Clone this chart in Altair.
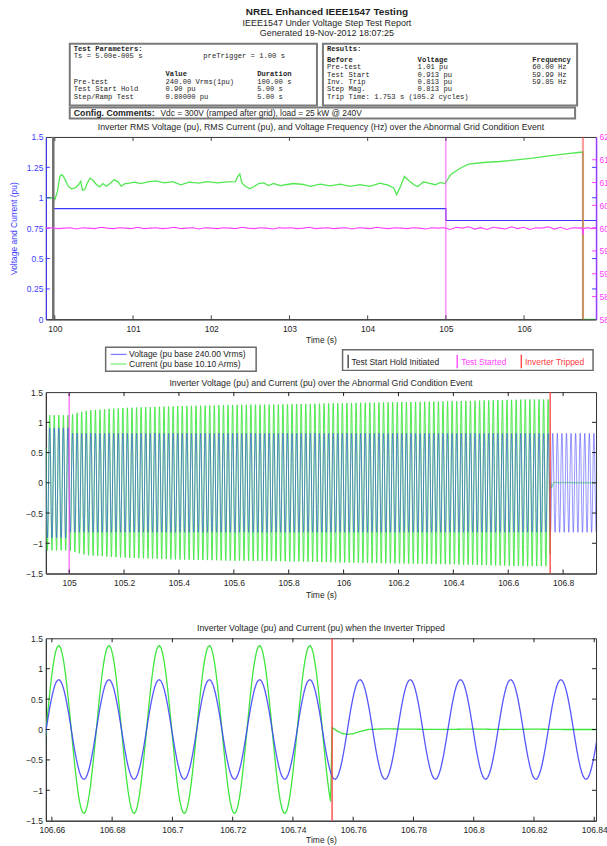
import altair as alt
import numpy as np
import pandas as pd

alt.data_transformers.disable_max_rows()

# ---------------- data: report header ----------------
report_title = "NREL Enhanced IEEE1547 Testing"
report_subtitle = "IEEE1547 Under Voltage Step Test Report"
report_generated = "Generated 19-Nov-2012 18:07:25"
param_sample = "Ts = 5.00e-005 s"
param_pretrigger = "preTrigger = 1.00 s"
param_rows = ["Pre-test", "Test Start Hold", "Step/Ramp Test"]
param_values = ["240.00 Vrms(1pu)", "0.90 pu", "0.80000 pu"]
param_durations = ["100.00 s", "5.00 s", "5.00 s"]
result_rows = ["Pre-test", "Test Start", "Inv. Trip", "Step Mag."]
result_voltage = ["1.01 pu", "0.913 pu", "0.813 pu", "0.813 pu"]
result_frequency = ["60.00 Hz", "59.99 Hz", "59.85 Hz", ""]
trip_time = "Trip Time: 1.753 s (105.2 cycles)"
config_comment = "Vdc = 300V (ramped after grid), load = 25 kW @ 240V"

# ---------------- data: events ----------------
event_names = ["Test Start Hold Initiated", "Test Started", "Inverter Tripped"]
event_times = [99.98, 105.0, 106.753]
TRIP_T = 106.753

# ---------------- data: RMS panel ----------------
rms_voltage = [(99.885, 1.0), (99.98, 1.0), (99.98, 0.91), (105.0, 0.91),
               (105.0, 0.813), (106.92, 0.813)]
rms_current = [
    (99.885, 1.0), (99.975, 1.0), (100.0, 0.985), (100.034, 1.054), (100.064, 1.177),
    (100.094, 1.19), (100.128, 1.155), (100.17, 1.095), (100.212, 1.073), (100.263, 1.081),
    (100.305, 1.109), (100.331, 1.136), (100.352, 1.062), (100.382, 1.068), (100.416, 1.122),
    (100.45, 1.16), (100.488, 1.144), (100.53, 1.109), (100.573, 1.09), (100.615, 1.117),
    (100.657, 1.095), (100.7, 1.114), (100.755, 1.147), (100.806, 1.133), (100.848, 1.095),
    (100.89, 1.114), (100.954, 1.12), (101.018, 1.128), (101.102, 1.117), (101.187, 1.131),
    (101.293, 1.139), (101.399, 1.122), (101.505, 1.133), (101.611, 1.106), (101.717, 1.128),
    (101.844, 1.12), (101.95, 1.133), (102.077, 1.122), (102.204, 1.131), (102.31, 1.133),
    (102.34, 1.177), (102.365, 1.196), (102.391, 1.122), (102.437, 1.095), (102.492, 1.073),
    (102.543, 1.09), (102.607, 1.117), (102.67, 1.122), (102.734, 1.1), (102.797, 1.117),
    (102.882, 1.1), (102.967, 1.109), (103.052, 1.117), (103.179, 1.109), (103.266, 1.093),
    (103.393, 1.112), (103.52, 1.098), (103.647, 1.112), (103.774, 1.093), (103.902, 1.107),
    (104.029, 1.093), (104.156, 1.12), (104.262, 1.104), (104.335, 1.079), (104.37, 1.025),
    (104.41, 1.079), (104.47, 1.175), (104.525, 1.142), (104.59, 1.107), (104.64, 1.093),
    (104.715, 1.131), (104.78, 1.12), (104.865, 1.107), (104.93, 1.126), (104.99, 1.115),
    (105.02, 1.148), (105.06, 1.189), (105.12, 1.216), (105.2, 1.249), (105.29, 1.276),
    (105.48, 1.29), (105.69, 1.298), (105.9, 1.311), (106.11, 1.325), (106.32, 1.344),
    (106.53, 1.36), (106.72, 1.374), (106.752, 1.376), (106.753, 0.0), (106.92, 0.0),
]
freq_hz = [
    60.00, 60.01, 59.99, 60.00, 60.01, 59.98, 60.01, 60.00, 59.99, 60.02,
    60.00, 59.99, 60.01, 60.00, 59.99, 60.02, 59.99, 60.00, 60.01, 59.99,
    60.00, 60.02, 59.99, 60.00, 60.01, 59.98, 60.01, 60.00, 59.99, 60.01,
    60.00, 59.99, 60.02, 60.00, 59.99, 60.01, 60.00, 59.98, 60.01, 60.00,
    60.01, 59.99, 60.00, 60.02, 59.99, 60.00, 60.01, 59.99, 60.00, 60.01,
    59.98, 60.01, 60.00, 59.99, 60.02, 60.00, 59.99, 60.01, 60.00, 59.99,
    60.01, 60.00, 59.98, 60.01, 60.00, 60.01,
    59.97, 60.02, 60.00, 60.03, 59.98, 60.01, 59.97, 60.02, 60.00, 59.98,
    60.03, 59.99, 60.02, 59.97, 60.01, 60.00, 60.03, 59.98, 60.02, 59.97,
    60.01, 60.00,
]
freq_tail = [(106.73, 60.01), (106.745, 59.98), (106.753, 59.85), (106.76, 59.99),
             (106.78, 60.0), (106.82, 60.01), (106.86, 59.99), (106.92, 60.0)]

# ---------------- data: waveforms ----------------
LINE_FREQ_HZ = 60.0
V_ZERO_CROSS = 106.6581          # rising zero crossing of the voltage (bottom panel)
VOLT_PEAK_BEFORE = 0.91
VOLT_PEAK_AFTER = 0.82
cur_env_t = [104.915, 105.0, 105.03, 105.07, 105.2, 105.4, 105.6, 105.8, 106.0, 106.4, 106.66, 106.753]
cur_env_v = [1.12, 1.12, 1.16, 1.20, 1.24, 1.27, 1.29, 1.30, 1.32, 1.35, 1.38, 1.38]
post_trip_t = [106.7531, 106.7545, 106.756, 106.758, 106.760, 106.7625, 106.765, 106.770,
               106.78, 106.79, 106.80, 106.81, 106.82, 106.83, 106.8406, 106.93]
post_trip_v = [0.03, -0.02, -0.06, -0.08, -0.07, -0.03, 0.0, 0.01,
               0.005, 0.0, 0.008, 0.0, 0.006, 0.0, 0.0, 0.0]

# ---------------- axes ----------------
top_x_ticks = [100, 101, 102, 103, 104, 105, 106]
top_y_ticks = [0, 0.25, 0.5, 0.75, 1, 1.25, 1.5]
top_f_ticks = [58, 58.5, 59, 59.5, 60, 60.5, 61, 61.5, 62]
mid_x_ticks = [105, 105.2, 105.4, 105.6, 105.8, 106, 106.2, 106.4, 106.6, 106.8]
wave_y_ticks = [-1.5, -1, -0.5, 0, 0.5, 1, 1.5]
bot_x_ticks = [106.66, 106.68, 106.7, 106.72, 106.74, 106.76, 106.78, 106.8, 106.82, 106.84]

title_top = ("Inverter RMS Voltage (pu), RMS Current (pu), and Voltage Frequency (Hz) "
             "over the Abnormal Grid Condition Event")
title_mid = "Inverter Voltage (pu) and Current (pu) over the Abnormal Grid Condition Event"
title_bot = "Inverter Voltage (pu) and Current (pu) when the Inverter Tripped"
legend_series = ["Voltage (pu base 240.00 Vrms)", "Current (pu base 10.10 Arms)"]

# ---------------- style ----------------
FONT = "Liberation Sans"
MONO = "Liberation Mono"
BLUE = "#3a3aff"
GREEN = "#3fe63f"
PINK = "#ff40ff"
RED = "#ff3b3b"
PURPLE = "#9a3cff"
GRAYLINE = "#707070"
INK = "#1e1e1e"
FMT = ".6~g"
W = 552
TICK = 4
OX = 45
DUMMY = pd.DataFrame({"d": [0]})


def frame_layers(top, bottom):
    base = alt.Chart(DUMMY).mark_rule(color="white", strokeWidth=0.1, strokeOpacity=0)
    return [base.encode(x=alt.value(-44.9), x2=alt.value(599.9), y=alt.value(top)),
            base.encode(x=alt.value(-44.9), x2=alt.value(599.9), y=alt.value(bottom))]


def title_layer(text, y):
    return alt.Chart(DUMMY).mark_text(font=FONT, fontSize=8.8, color=INK, align="center",
                                      baseline="middle").encode(
        x=alt.value(W / 2), y=alt.value(y), text=alt.value(text))


def yticks(vals, scale, axis, side, color):
    x0 = 0 if side == "left" else W - TICK
    return alt.Chart(pd.DataFrame({"v": vals})).mark_rule(color=color, strokeWidth=1).encode(
        y=alt.Y("v:Q", scale=scale, axis=axis), x=alt.value(x0), x2=alt.value(x0 + TICK))


def xticks(vals, scale, axis, h, color=INK):
    df = pd.DataFrame({"v": vals})
    b = alt.Chart(df).mark_rule(color=color, strokeWidth=1)
    return [b.encode(x=alt.X("v:Q", scale=scale, axis=axis), y=alt.value(h - TICK), y2=alt.value(h)),
            b.encode(x=alt.X("v:Q", scale=scale, axis=axis), y=alt.value(0), y2=alt.value(TICK))]


def event_rule(idx, color, width, opacity, scale, axis):
    return alt.Chart(ev_df.iloc[[idx]]).mark_rule(
        color=color, strokeWidth=width, opacity=opacity).encode(
        x=alt.X("t:Q", scale=scale, axis=axis))


def text_layer(df, font, size, weight="normal", align="left"):
    return alt.Chart(df).mark_text(font=font, fontSize=size, fontWeight=weight, align=align,
                                   baseline="middle").encode(
        x=alt.X("x:Q", scale=None), y=alt.Y("y:Q", scale=None), text="text:N",
        color=alt.Color("c:N", scale=None))


ev_df = pd.DataFrame({"t": event_times, "name": event_names})

# ================= header chart (origin at page y = 0) =================
rows = []


def add(text, ax, ay, style, c=INK):
    rows.append(dict(text=text, x=ax - OX, y=ay, style=style, c=c))


add(report_title, 327, 9.5, "title")
add(report_subtitle, 327, 20.5, "sub")
add(report_generated, 327, 31, "sub")
add("Test Parameters:", 73, 46.5, "mono_b")
add(param_sample, 73, 54, "mono")
add(param_pretrigger, 203, 54, "mono")
add("Value", 165, 72, "mono_b")
add("Duration", 257, 72, "mono_b")
for i, (a, b, c) in enumerate(zip(param_rows, param_values, param_durations)):
    yy = 79.8 + i * 7.4
    add(a, 73, yy, "mono")
    add(b, 165, yy, "mono")
    add(c, 257, yy, "mono")
add("Results:", 327, 46.5, "mono_b")
add("Before", 327, 57.5, "mono_b")
add("Voltage", 418, 57.5, "mono_b")
add("Frequency", 533, 57.5, "mono_b")
for i, (a, b, c) in enumerate(zip(result_rows, result_voltage, result_frequency)):
    yy = 65.0 + i * 7.4
    add(a, 327, yy, "mono")
    add(b, 418, yy, "mono")
    if c:
        add(c, 533, yy, "mono")
add(trip_time, 327, 94.6, "mono")
add("Config. Comments:", 73, 110.5, "sans_b")
add(config_comment, 160, 110.5, "sans")
hdr = pd.DataFrame(rows)

boxes = pd.DataFrame({
    "x": [69 - OX, 323 - OX, 69 - OX],
    "x2": [317 - OX, 578 - OX, 576 - OX],
    "y": [41.5, 41.5, 105.5],
    "y2": [103.5, 103.5, 116.5],
})
box_layer = alt.Chart(boxes).mark_rect(filled=False, stroke="#7a7a7a", strokeWidth=2).encode(
    x=alt.X("x:Q", scale=None), x2="x2:Q", y=alt.Y("y:Q", scale=None), y2="y2:Q")

header = alt.layer(
    *frame_layers(0.1, 119.5),
    box_layer,
    text_layer(hdr[hdr["style"] == "title"], FONT, 10, "bold", "center"),
    text_layer(hdr[hdr["style"] == "sub"], FONT, 9, "normal", "center"),
    text_layer(hdr[hdr["style"] == "mono_b"], MONO, 7.2, "bold"),
    text_layer(hdr[hdr["style"] == "mono"], MONO, 7.2, "normal"),
    text_layer(hdr[hdr["style"] == "sans_b"], FONT, 8.8, "bold"),
    text_layer(hdr[hdr["style"] == "sans"], FONT, 8.4, "normal"),
).properties(width=W, height=1, view=alt.ViewBackground(stroke="transparent"))

# ================= panel 1: RMS (origin at page y = 137) =================
H1 = 183
xs1 = alt.Scale(domain=[99.885, 106.92], nice=False, zero=False)
ys1 = alt.Scale(domain=[0, 1.5], nice=False, zero=False)
yf1 = alt.Scale(domain=[58, 62], nice=False, zero=False)

v_df = pd.DataFrame(rms_voltage, columns=["t", "v"])
c_df = pd.DataFrame(rms_current, columns=["t", "v"])
f_t = list(np.linspace(99.885, 106.70, len(freq_hz))) + [p[0] for p in freq_tail]
f_df = pd.DataFrame({"t": f_t, "f": freq_hz + [p[1] for p in freq_tail]})

x_axis1 = alt.Axis(values=top_x_ticks, format=FMT, title="Time (s)", labelPadding=5,
                   titlePadding=3, labelFlush=False, labelOverlap=False)
y_axis1 = alt.Axis(values=top_y_ticks, format=FMT, title="Voltage and Current (pu)",
                   labelColor=BLUE, titleColor=BLUE, domainColor=BLUE, labelPadding=3,
                   titlePadding=8, labelOverlap=False)
f_axis1 = alt.Axis(orient="right", values=top_f_ticks, format=FMT, title="",
                   labelColor=PINK, domainColor=PURPLE, domainWidth=1.5, labelPadding=3,
                   labelOverlap=False)

blue1 = alt.Chart(v_df).mark_line(color=BLUE, strokeWidth=1.2, clip=True).encode(
    x=alt.X("t:Q", scale=xs1, axis=x_axis1), y=alt.Y("v:Q", scale=ys1, axis=y_axis1))
green1 = alt.Chart(c_df).mark_line(color=GREEN, strokeWidth=1.3, opacity=0.9, clip=True).encode(
    x=alt.X("t:Q", scale=xs1, axis=x_axis1), y=alt.Y("v:Q", scale=ys1, axis=y_axis1))

left1 = alt.layer(
    *frame_layers(-14.5, 207.5),
    blue1, green1,
    event_rule(0, GRAYLINE, 2.5, 1.0, xs1, x_axis1),
    event_rule(1, PINK, 1.1, 0.8, xs1, x_axis1),
    event_rule(2, RED, 2.2, 0.5, xs1, x_axis1),
    *xticks(top_x_ticks, xs1, x_axis1, H1, "#444"),
    yticks(top_y_ticks[1:-1], ys1, y_axis1, "left", BLUE),
    yticks(top_y_ticks[1:-1], ys1, y_axis1, "right", BLUE),
    title_layer(title_top, -9.5),
)
pink1 = alt.Chart(f_df).mark_line(color=PINK, strokeWidth=1.1, clip=True).encode(
    x=alt.X("t:Q", scale=xs1, axis=x_axis1),
    y=alt.Y("f:Q", scale=yf1, axis=f_axis1))
right1 = alt.layer(pink1, yticks(top_f_ticks[1:-1], yf1, f_axis1, "right", PINK))
panel1 = alt.layer(left1, right1).resolve_scale(y="independent").properties(width=W, height=H1)

# ================= legend chart (origin at page y = 345.5) =================
LY = 345.5
leg_boxes = pd.DataFrame({"x": [105 - OX, 342.7 - OX], "x2": [256 - OX, 594 - OX],
                          "y": [345.5 - LY, 348 - LY], "y2": [369.5 - LY, 368.7 - LY]})
leg_box_layer = alt.Chart(leg_boxes).mark_rect(filled=False, stroke="#6a6a6a", strokeWidth=1.5).encode(
    x=alt.X("x:Q", scale=None), x2="x2:Q", y=alt.Y("y:Q", scale=None), y2="y2:Q")
leg_lines = pd.DataFrame({
    "x": [110 - OX, 110 - OX, 348.3 - OX, 457.7 - OX, 522 - OX],
    "x2": [126 - OX, 126 - OX, 348.3 - OX, 457.7 - OX, 522 - OX],
    "y": [352.7 - LY, 362.3 - LY, 353 - LY, 353 - LY, 353 - LY],
    "y2": [352.7 - LY, 362.3 - LY, 366.5 - LY, 366.5 - LY, 366.5 - LY],
    "c": ["#8080ff", "#80f080", "#333333", PINK, RED],
})
leg_line_layer = alt.Chart(leg_lines).mark_rule(strokeWidth=1.3).encode(
    x=alt.X("x:Q", scale=None), x2="x2:Q", y=alt.Y("y:Q", scale=None), y2="y2:Q",
    color=alt.Color("c:N", scale=None))
leg_text = pd.DataFrame({
    "text": legend_series + event_names,
    "x": [128.5 - OX, 128.5 - OX, 351.7 - OX, 461.7 - OX, 525.7 - OX],
    "y": [352.7 - LY, 362.3 - LY, 360.5 - LY, 360.5 - LY, 360.5 - LY],
    "c": [INK, INK, INK, PINK, RED],
})
legend = alt.layer(
    *frame_layers(0.1, 374 - LY),
    leg_box_layer, leg_line_layer,
    text_layer(leg_text, FONT, 8.5),
).properties(width=W, height=1, view=alt.ViewBackground(stroke="transparent"))

# ================= waveforms =================
wave_t = np.arange(104.915, 106.9205, 1.0 / (LINE_FREQ_HZ * 32))
phase = 2 * np.pi * LINE_FREQ_HZ * (wave_t - V_ZERO_CROSS)
volt_peak = np.where(wave_t < 105.0, VOLT_PEAK_BEFORE, VOLT_PEAK_AFTER)
volt_wave = volt_peak * np.sin(phase)
cur_wave = np.where(wave_t < TRIP_T,
                    np.interp(wave_t, cur_env_t, cur_env_v) * np.sin(phase),
                    np.interp(wave_t, post_trip_t, post_trip_v))
wave_df = pd.DataFrame({"t": np.round(wave_t, 6), "v": np.round(volt_wave, 4),
                        "i": np.round(cur_wave, 4)})

# ================= panel 2 (origin at page y = 391) =================
H2 = 182
xs2 = alt.Scale(domain=[104.915, 106.92], nice=False, zero=False)
ysw = alt.Scale(domain=[-1.5, 1.5], nice=False, zero=False)
x_axis2 = alt.Axis(values=mid_x_ticks, format=FMT, title="Time (s)", labelPadding=5.5,
                   titlePadding=3.5, labelFlush=False, labelOverlap=False)
y_axis_w = alt.Axis(values=wave_y_ticks, format=FMT, title="", labelPadding=3.5,
                    labelOverlap=False)

green2 = alt.Chart(wave_df).mark_line(color=GREEN, strokeWidth=0.9, clip=True).encode(
    x=alt.X("t:Q", scale=xs2, axis=x_axis2), y=alt.Y("i:Q", scale=ysw, axis=y_axis_w))
blue2 = alt.Chart(wave_df).mark_line(color=BLUE, strokeWidth=0.9, opacity=0.6, clip=True).encode(
    x=alt.X("t:Q", scale=xs2, axis=x_axis2), y=alt.Y("v:Q", scale=ysw, axis=y_axis_w))
panel2 = alt.layer(
    *frame_layers(-15, 219),
    green2, blue2,
    event_rule(1, PINK, 1.1, 0.9, xs2, x_axis2),
    event_rule(2, RED, 1.6, 0.8, xs2, x_axis2),
    *xticks(mid_x_ticks, xs2, x_axis2, H2),
    yticks(wave_y_ticks[1:-1], ysw, y_axis_w, "left", INK),
    yticks(wave_y_ticks[1:-1], ysw, y_axis_w, "right", INK),
    title_layer(title_mid, -9.5),
).properties(width=W, height=H2)

# ================= panel 3 (origin at page y = 638) =================
H3 = 183
xs3 = alt.Scale(domain=[106.658, 106.8406], nice=False, zero=False)
bot_df = wave_df[(wave_df["t"] >= 106.655) & (wave_df["t"] <= 106.845)]
x_axis3 = alt.Axis(values=bot_x_ticks, format=FMT, title="Time (s)", labelPadding=5,
                   titlePadding=1.5, labelFlush=False, labelOverlap=False)
green3 = alt.Chart(bot_df).mark_line(color=GREEN, strokeWidth=1.3, clip=True).encode(
    x=alt.X("t:Q", scale=xs3, axis=x_axis3), y=alt.Y("i:Q", scale=ysw, axis=y_axis_w))
blue3 = alt.Chart(bot_df).mark_line(color=BLUE, strokeWidth=1.3, opacity=0.85, clip=True).encode(
    x=alt.X("t:Q", scale=xs3, axis=x_axis3), y=alt.Y("v:Q", scale=ysw, axis=y_axis_w))
panel3 = alt.layer(
    *frame_layers(-26, 207.6),
    green3, blue3,
    event_rule(2, RED, 1.3, 1.0, xs3, x_axis3),
    *xticks(bot_x_ticks, xs3, x_axis3, H3),
    yticks(wave_y_ticks[1:-1], ysw, y_axis_w, "left", INK),
    yticks(wave_y_ticks[1:-1], ysw, y_axis_w, "right", INK),
    title_layer(title_bot, -10),
).properties(width=W, height=H3)

chart = alt.vconcat(header, panel1, legend, panel2, panel3, spacing=0).properties(
    padding={"left": 0, "top": 0, "right": -38, "bottom": 0},
    background="white",
).configure_view(stroke="#333333", strokeWidth=1).configure_axis(
    labelFont=FONT, titleFont=FONT, labelFontSize=8.5, titleFontSize=8.5,
    titleFontWeight="normal", labelColor=INK, titleColor=INK, domainColor="#333333",
    grid=False, ticks=False,
)

chart.save("out.html", embed_options={"renderer": "svg", "actions": False})
